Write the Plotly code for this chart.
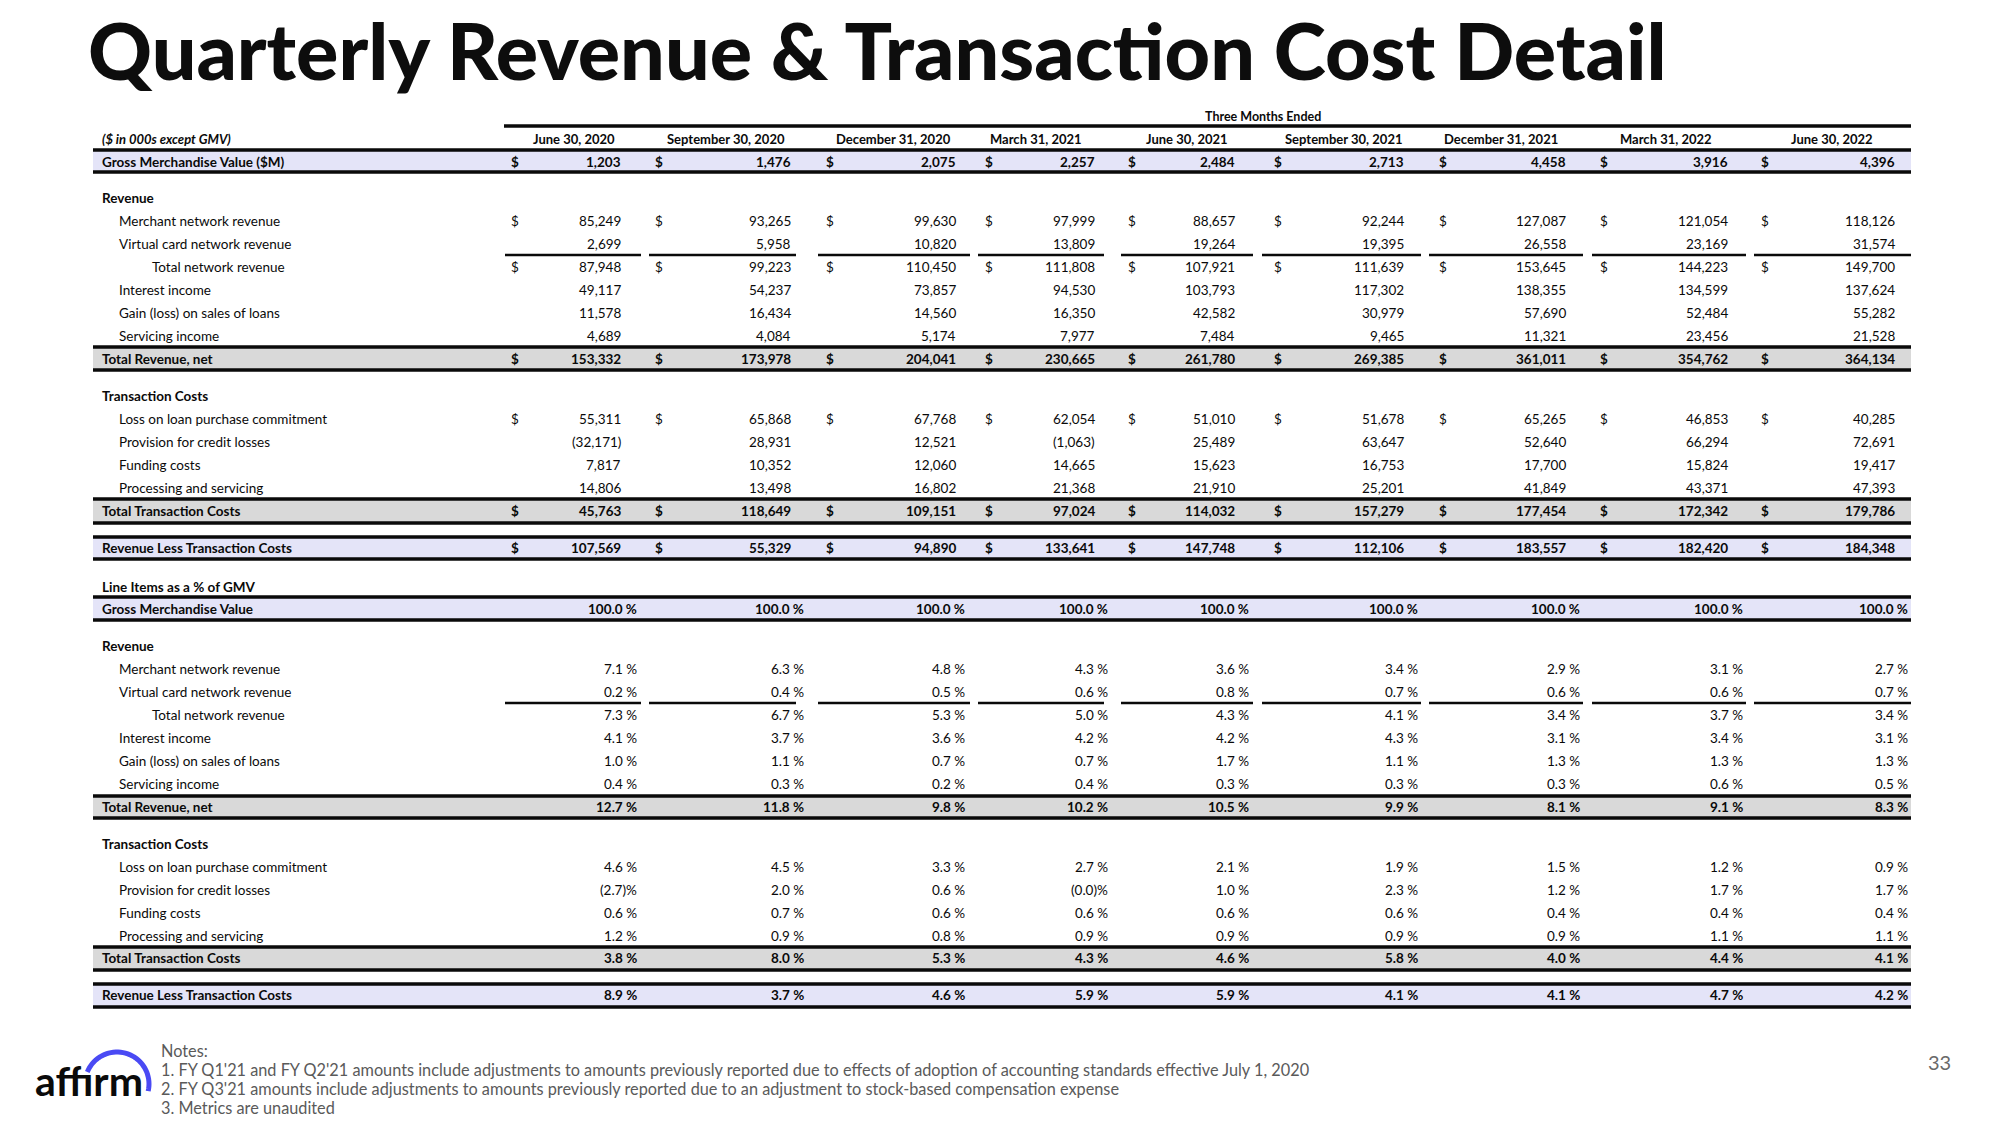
import math
import numpy as np
import plotly.graph_objects as go

# ---------------- DATA ----------------
quarters = ["June 30, 2020", "September 30, 2020", "December 31, 2020", "March 31, 2021",
            "June 30, 2021", "September 30, 2021", "December 31, 2021", "March 31, 2022",
            "June 30, 2022"]

gmv = [1203, 1476, 2075, 2257, 2484, 2713, 4458, 3916, 4396]

merchant_rev = [85249, 93265, 99630, 97999, 88657, 92244, 127087, 121054, 118126]
virtual_card_rev = [2699, 5958, 10820, 13809, 19264, 19395, 26558, 23169, 31574]
total_network_rev = [87948, 99223, 110450, 111808, 107921, 111639, 153645, 144223, 149700]
interest_income = [49117, 54237, 73857, 94530, 103793, 117302, 138355, 134599, 137624]
gain_on_loans = [11578, 16434, 14560, 16350, 42582, 30979, 57690, 52484, 55282]
servicing_income = [4689, 4084, 5174, 7977, 7484, 9465, 11321, 23456, 21528]
total_revenue = [153332, 173978, 204041, 230665, 261780, 269385, 361011, 354762, 364134]

loss_on_lpc = [55311, 65868, 67768, 62054, 51010, 51678, 65265, 46853, 40285]
provision_credit = [-32171, 28931, 12521, -1063, 25489, 63647, 52640, 66294, 72691]
funding_costs = [7817, 10352, 12060, 14665, 15623, 16753, 17700, 15824, 19417]
processing_servicing = [14806, 13498, 16802, 21368, 21910, 25201, 41849, 43371, 47393]
total_tx_costs = [45763, 118649, 109151, 97024, 114032, 157279, 177454, 172342, 179786]
rev_less_tx = [107569, 55329, 94890, 133641, 147748, 112106, 183557, 182420, 184348]

pct_gmv = [100.0, 100.0, 100.0, 100.0, 100.0, 100.0, 100.0, 100.0, 100.0]
pct_merchant = [7.1, 6.3, 4.8, 4.3, 3.6, 3.4, 2.9, 3.1, 2.7]
pct_virtual = [0.2, 0.4, 0.5, 0.6, 0.8, 0.7, 0.6, 0.6, 0.7]
pct_total_network = [7.3, 6.7, 5.3, 5.0, 4.3, 4.1, 3.4, 3.7, 3.4]
pct_interest = [4.1, 3.7, 3.6, 4.2, 4.2, 4.3, 3.1, 3.4, 3.1]
pct_gain = [1.0, 1.1, 0.7, 0.7, 1.7, 1.1, 1.3, 1.3, 1.3]
pct_servicing = [0.4, 0.3, 0.2, 0.4, 0.3, 0.3, 0.3, 0.6, 0.5]
pct_total_revenue = [12.7, 11.8, 9.8, 10.2, 10.5, 9.9, 8.1, 9.1, 8.3]
pct_loss_lpc = [4.6, 4.5, 3.3, 2.7, 2.1, 1.9, 1.5, 1.2, 0.9]
pct_provision = [-2.7, 2.0, 0.6, -0.0, 1.0, 2.3, 1.2, 1.7, 1.7]
pct_funding = [0.6, 0.7, 0.6, 0.6, 0.6, 0.6, 0.4, 0.4, 0.4]
pct_processing = [1.2, 0.9, 0.8, 0.9, 0.9, 0.9, 0.9, 1.1, 1.1]
pct_total_tx = [3.8, 8.0, 5.3, 4.3, 4.6, 5.8, 4.0, 4.4, 4.1]
pct_rev_less_tx = [8.9, 3.7, 4.6, 5.9, 5.9, 4.1, 4.1, 4.7, 4.2]

notes = [
    "Notes:",
    "1. FY Q1'21 and FY Q2'21 amounts include adjustments to amounts previously reported due to effects of adoption of accounting standards effective July 1, 2020",
    "2. FY Q3'21 amounts include adjustments to amounts previously reported due to an adjustment to stock-based compensation expense",
    "3. Metrics are unaudited",
]

# ---------------- LAYOUT GEOMETRY (pixels) ----------------
FONT = "Lato, 'Open Sans', sans-serif"
INK = "#0a0a0a"
LAVENDER = "#E4E4F8"
GREY = "#D9D9D9"

TABLE_L, TABLE_R = 93, 1911
dollar_x = [515, 659, 830, 989, 1132, 1278, 1443, 1604, 1765]
num_right = [623, 793, 958, 1097, 1237, 1406, 1568, 1730, 1897]
pct_right = [639, 806, 967, 1110, 1251, 1420, 1582, 1745, 1910]
head_center = [574, 726, 893, 1036, 1187, 1343, 1501, 1666, 1832]
seg_start = [505, 649, 818, 978, 1121, 1262, 1429, 1592, 1754]
seg_end = [641, 796, 970, 1104, 1253, 1421, 1583, 1746, 1911]

X_SECTION, X_ITEM, X_SUB = 100, 117, 150
FS = 13.5

annotations = []
shapes = []


def txt(x, y, s, size=FS, bold=False, italic=False, anchor="left", color=INK, weight=None):
    annotations.append(dict(
        x=x, y=y, xref="x", yref="y", text=s, showarrow=False,
        xanchor=anchor, yanchor="middle",
        font=dict(family=FONT, size=size, color=color,
                  weight=(weight if weight is not None else (700 if bold else 400)),
                  style=("italic" if italic else "normal")),
    ))


def hline(y, x0=TABLE_L, x1=TABLE_R, w=3.5):
    shapes.append(dict(type="line", xref="x", yref="y", x0=x0, x1=x1, y0=y, y1=y,
                       line=dict(color=INK, width=w), layer="above"))


def band(y0, y1, color):
    shapes.append(dict(type="rect", xref="x", yref="y", x0=TABLE_L, x1=TABLE_R, y0=y0, y1=y1,
                       fillcolor=color, line=dict(width=0), layer="below"))


def fmt_num(v):
    return f"({abs(v):,})" if v < 0 else f"{v:,}"


def fmt_pct(v):
    neg = math.copysign(1.0, v) < 0
    return f"({abs(v):.1f})%" if neg else f"{v:.1f} %"


def row_num(y, label, values, lx=X_ITEM, dollar=False, bold=False):
    txt(lx, y, label, bold=bold)
    for i, v in enumerate(values):
        if dollar:
            txt(dollar_x[i], y, "$", bold=bold, anchor="center")
        txt(num_right[i], y, fmt_num(v), bold=bold, anchor="right")


def row_pct(y, label, values, lx=X_ITEM, bold=False):
    txt(lx, y, label, bold=bold)
    for i, v in enumerate(values):
        txt(pct_right[i], y, fmt_pct(v), bold=bold, anchor="right")


# ---------------- TITLE ----------------
txt(86, 49, "Quarterly Revenue &amp; Transaction Cost Detail", size=79, weight=900, color="#0d0d0d")

# ---------------- HEADER ----------------
txt(1203, 116, "Three Months Ended", size=12.5, bold=True)
hline(126, x0=504)
txt(X_SECTION, 139, "($ in 000s except GMV)", size=13, bold=True, italic=True)
for i, q in enumerate(quarters):
    txt(head_center[i], 139, q, size=13, bold=True, anchor="center")

# ---------------- $ SECTION ----------------
band(150, 172, LAVENDER)
hline(150)
hline(172)
row_num(162, "Gross Merchandise Value ($M)", gmv, lx=X_SECTION, dollar=True, bold=True)

txt(X_SECTION, 198, "Revenue", bold=True)
row_num(221, "Merchant network revenue", merchant_rev, dollar=True)
row_num(244, "Virtual card network revenue", virtual_card_rev)
for i in range(9):
    hline(255, seg_start[i], seg_end[i], w=2.5)
row_num(267, "Total network revenue", total_network_rev, lx=X_SUB, dollar=True)
row_num(290, "Interest income", interest_income)
row_num(313, "Gain (loss) on sales of loans", gain_on_loans)
row_num(336, "Servicing income", servicing_income)
band(347, 370, GREY)
hline(347)
hline(370)
row_num(359, "Total Revenue, net", total_revenue, lx=X_SECTION, dollar=True, bold=True)

txt(X_SECTION, 396, "Transaction Costs", bold=True)
row_num(419, "Loss on loan purchase commitment", loss_on_lpc, dollar=True)
row_num(442, "Provision for credit losses", provision_credit)
row_num(465, "Funding costs", funding_costs)
row_num(488, "Processing and servicing", processing_servicing)
band(499, 523, GREY)
hline(499)
hline(523)
row_num(511, "Total Transaction Costs", total_tx_costs, lx=X_SECTION, dollar=True, bold=True)

band(537, 559, LAVENDER)
hline(537)
hline(559)
row_num(548, "Revenue Less Transaction Costs", rev_less_tx, lx=X_SECTION, dollar=True, bold=True)

# ---------------- % OF GMV SECTION ----------------
txt(X_SECTION, 587, "Line Items as a % of GMV", bold=True)
band(597, 620, LAVENDER)
hline(597)
hline(620)
row_pct(609, "Gross Merchandise Value", pct_gmv, lx=X_SECTION, bold=True)

txt(X_SECTION, 646, "Revenue", bold=True)
row_pct(669, "Merchant network revenue", pct_merchant)
row_pct(692, "Virtual card network revenue", pct_virtual)
for i in range(9):
    hline(703, seg_start[i], seg_end[i], w=2.5)
row_pct(715, "Total network revenue", pct_total_network, lx=X_SUB)
row_pct(738, "Interest income", pct_interest)
row_pct(761, "Gain (loss) on sales of loans", pct_gain)
row_pct(784, "Servicing income", pct_servicing)
band(796, 818, GREY)
hline(796)
hline(818)
row_pct(807, "Total Revenue, net", pct_total_revenue, lx=X_SECTION, bold=True)

txt(X_SECTION, 844, "Transaction Costs", bold=True)
row_pct(867, "Loss on loan purchase commitment", pct_loss_lpc)
row_pct(890, "Provision for credit losses", pct_provision)
row_pct(913, "Funding costs", pct_funding)
row_pct(936, "Processing and servicing", pct_processing)
band(947, 970, GREY)
hline(947)
hline(970)
row_pct(958, "Total Transaction Costs", pct_total_tx, lx=X_SECTION, bold=True)

band(984, 1007, LAVENDER)
hline(984)
hline(1007)
row_pct(995, "Revenue Less Transaction Costs", pct_rev_less_tx, lx=X_SECTION, bold=True)

# ---------------- NOTES / FOOTER ----------------
for k, line in enumerate(notes):
    txt(159, 1050 + k * 19.3, line, size=16.3, color="#5a5a5a")

txt(1939, 1062, "33", size=20, color="#6a6a6a", anchor="center")

# affirm logo
txt(33, 1080, "aff\u0131rm", size=41, weight=700, color="#0a0a0a")
ang = np.linspace(np.radians(158), np.radians(-13), 40)
cx, cy, r = 117, 1084, 32
pts = [(cx + r * np.cos(a), cy - r * np.sin(a)) for a in ang]
path = "M " + " L ".join(f"{px:.1f},{py:.1f}" for px, py in pts)
shapes.append(dict(type="path", xref="x", yref="y", path=path,
                   line=dict(color="#4A4AF4", width=5)))

# ---------------- FIGURE ----------------
fig = go.Figure()
fig.add_trace(go.Scatter(x=[0, 2000], y=[0, 1125], mode="markers",
                         marker=dict(opacity=0), hoverinfo="skip", showlegend=False))
fig.update_layout(
    width=2000, height=1125, autosize=False,
    margin=dict(l=0, r=0, t=0, b=0, pad=0),
    paper_bgcolor="white", plot_bgcolor="white",
    xaxis=dict(range=[0, 2000], visible=False, fixedrange=True),
    yaxis=dict(range=[1125, 0], visible=False, fixedrange=True),
    annotations=annotations, shapes=shapes, showlegend=False,
)
fig.write_html("out.html", config={"displayModeBar": False},
               post_script="document.body.style.margin='0';document.body.style.overflow='hidden';")
